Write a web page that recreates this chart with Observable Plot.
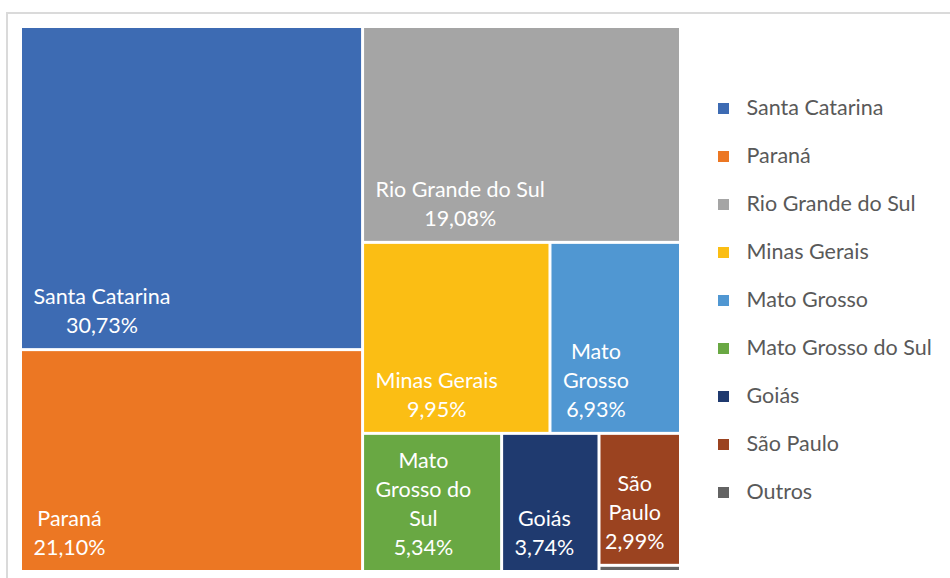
<!DOCTYPE html>
<html>
<head>
<meta charset="utf-8">
<script src="https://cdn.jsdelivr.net/npm/d3@7"></script>
<script src="https://cdn.jsdelivr.net/npm/@observablehq/plot@0.6"></script>
<style>
  html, body { margin: 0; padding: 0; background: #fff; }
  body { width: 950px; height: 578px; position: relative; overflow: hidden; font-family: Lato, "Open Sans", sans-serif; }
  #frame { position: absolute; left: 6px; top: 12px; width: 960px; height: 600px; border-top: 2px solid #dadada; border-left: 2px solid #dadada; }
  #tree { position: absolute; left: 0; top: 0; }
  #legend { position: absolute; left: 700px; top: 0; }
</style>
</head>
<body>
<div id="frame"></div>
<div id="tree"></div>
<div id="legend"></div>
<script>
// ---- data ----
const states = ["Santa Catarina", "Paraná", "Rio Grande do Sul", "Minas Gerais", "Mato Grosso", "Mato Grosso do Sul", "Goiás", "São Paulo", "Outros"];
const shares = [30.73, 21.10, 19.08, 9.95, 6.93, 5.34, 3.74, 2.99, 0.14];
const cellLabels = ["Santa Catarina", "Paraná", "Rio Grande do Sul", "Minas Gerais", "Mato\nGrosso", "Mato\nGrosso do\nSul", "Goiás", "São\nPaulo", ""];
const colors = ["#3d6bb3", "#ec7723", "#a5a5a5", "#fbbe14", "#5097d2", "#69a843", "#1f3a6f", "#9b4320", "#636363"];
// nesting of the slice-and-dice layout (indices into the arrays above)
const groups = [[0, 1], [2, [3, 4], [5, 6, [7, 8]]]];

// ---- layout ----
function build(g) {
  if (Array.isArray(g)) return { children: g.map(build) };
  return { idx: g, value: shares[g] };
}
const root = d3.hierarchy(build(groups)).sum(d => d.value || 0);
d3.treemap().tile(d3.treemapSliceDice).size([1, 1]).round(false)(root);
const leaves = root.leaves().map(n => ({
  name: states[n.data.idx],
  label: cellLabels[n.data.idx],
  share: shares[n.data.idx],
  x0: n.x0, x1: n.x1, y0: n.y0, y1: n.y1
}));

const FS = 21.5;
const XR = [20.5, 680.5], YR = [26.5, 571.5];
const PW = XR[1] - XR[0];
const ctx = document.createElement("canvas").getContext("2d");
ctx.font = FS + "px Lato";
const fmt = v => v.toFixed(2).replace(".", ",") + "%";

const labelData = leaves.filter(d => d.label !== "").map(d => {
  const text = d.label + "\n" + fmt(d.share);
  const bw = Math.max(...text.split("\n").map(s => ctx.measureText(s).width));
  const wpx = (d.x1 - d.x0) * PW - 3;
  const pad = bw + 22 > wpx ? Math.max(3, Math.min(4, (wpx - bw) / 2)) : 11;
  return { ...d, text, cx: d.x0 + (1.5 + pad + bw / 2) / PW };
});

const tree = Plot.plot({
  width: 700, height: 578,
  margin: 0,
  x: { domain: [0, 1], range: XR, axis: null },
  y: { domain: [0, 1], range: YR, axis: null },
  color: { domain: states, range: colors },
  style: { background: "transparent", overflow: "visible" },
  marks: [
    Plot.rect(leaves, { x1: "x0", x2: "x1", y1: "y0", y2: "y1", fill: "name", inset: 1.5 }),
    Plot.text(labelData, {
      x: "cx", y: "y1", text: "text",
      lineAnchor: "bottom", lineHeight: 29 / FS, dy: -17,
      textAnchor: "middle", fill: "white",
      fontFamily: "Lato", fontSize: FS
    })
  ]
});
document.getElementById("tree").appendChild(tree);

const legend = Plot.plot({
  width: 250, height: 578,
  margin: 0,
  x: { domain: [0, 1], range: [23, 273], axis: null },
  y: { type: "point", domain: states, range: [108, 492], padding: 0, axis: null },
  color: { domain: states, range: colors },
  style: { background: "transparent", overflow: "visible" },
  marks: [
    Plot.dot(states, { x: () => 0, y: d => d, fill: d => d, symbol: "square", r: 6.2 }),
    Plot.text(states, {
      x: () => 0, y: d => d, text: d => d, dx: 23, textAnchor: "start",
      fill: "#595959", fontFamily: "Lato", fontSize: FS
    })
  ]
});
document.getElementById("legend").appendChild(legend);
</script>
</body>
</html>
